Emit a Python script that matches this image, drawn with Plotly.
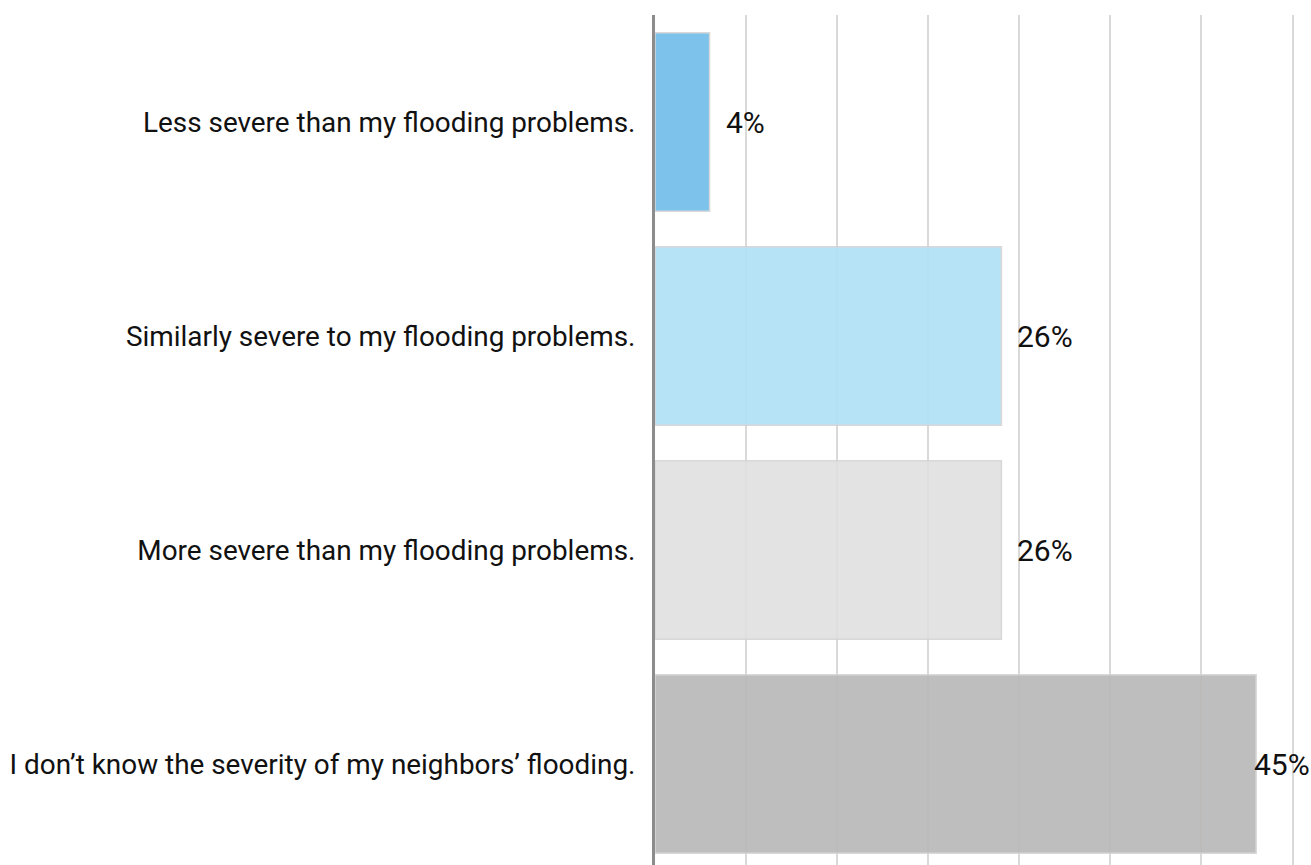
import plotly.graph_objects as go

categories = [
    "Less severe than my flooding problems.",
    "Similarly severe to my flooding problems.",
    "More severe than my flooding problems.",
    "I don\u2019t know the severity of my neighbors\u2019 flooding.",
]
values = [4.05, 25.7, 25.7, 44.6]          # percent of respondents
value_labels = ["4%", "26%", "26%", "45%"]
colors = ["#6FBCE9", "#B0E1F6", "#E1E0E1", "#B9B8B7"]

FONT = "Roboto"
x_max = 48.67
grid_step = 100 * 5 / 74

fig = go.Figure()
fig.add_trace(go.Bar(
    y=categories,
    x=values,
    orientation="h",
    marker=dict(color=colors, line=dict(color="#D4D4D4", width=1.5)),
    opacity=0.9,
    width=0.835,
    hoverinfo="skip",
))

annotations = []
for cat, v, lab in zip(categories, values, value_labels):
    # labels that would run past the right edge are pulled back over the bar end
    shift = -4 if v + 5 > x_max else 14
    annotations.append(dict(x=v, xref="x", y=cat, yref="y", text=lab,
                            showarrow=False, xanchor="left", xshift=shift,
                            font=dict(family=FONT, size=30, color="#111")))

fig.update_layout(
    width=1311, height=865,
    margin=dict(l=655, r=0, t=15, b=0),
    paper_bgcolor="white", plot_bgcolor="white",
    showlegend=False,
    annotations=annotations,
    font=dict(family=FONT, size=27.9, color="#111"),
)
fig.update_xaxes(
    range=[0, x_max], dtick=grid_step, tick0=0,
    showgrid=True, gridcolor="#D9D9D9", gridwidth=2,
    zeroline=False, showticklabels=False, showline=False,
    automargin=False,
)
fig.update_yaxes(
    categoryorder="array", categoryarray=categories,
    range=[-0.5 + 850 / 214, -0.5],
    showline=True, linecolor="#8C8C8C", linewidth=3,
    ticks="outside", ticklen=11, tickcolor="rgba(0,0,0,0)",
    showgrid=False, zeroline=False,
    automargin=False,
    tickfont=dict(family=FONT, size=27.9, color="#111"),
)

fig.write_html(
    "out.html",
    config={"displayModeBar": False},
    post_script="document.body.style.margin='0';document.body.style.overflow='hidden';",
)
